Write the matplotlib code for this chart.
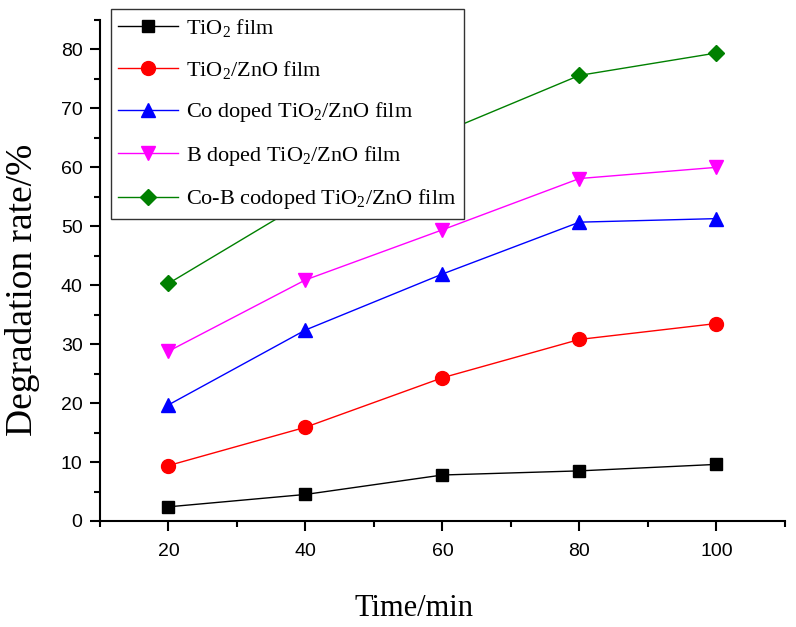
import matplotlib
matplotlib.use("Agg")
import matplotlib.pyplot as plt
from matplotlib.ticker import MultipleLocator

plt.rcParams["font.family"] = ["Liberation Serif", "DejaVu Serif"]
plt.rcParams["mathtext.fontset"] = "custom"
plt.rcParams["mathtext.rm"] = "Liberation Serif"
plt.rcParams["mathtext.it"] = "Liberation Serif:italic"

# data
time_min = [20, 40, 60, 80, 100]
tio2 = [2.4, 4.5, 7.8, 8.5, 9.6]
tio2_zno = [9.4, 15.9, 24.3, 30.8, 33.5]
co_doped = [19.7, 32.4, 41.9, 50.7, 51.3]
b_doped = [28.8, 40.9, 49.4, 58.1, 60.0]
cob_codoped = [40.3, 54.2, 65.9, 75.6, 79.4]

labels = [r"TiO$_2$ film", r"TiO$_2$/ZnO film", r"Co doped TiO$_2$/ZnO film",
          r"B doped TiO$_2$/ZnO film", r"Co-B codoped TiO$_2$/ZnO film"]
series = [tio2, tio2_zno, co_doped, b_doped, cob_codoped]
colors = ["#000000", "#FF0000", "#0000FF", "#FF00FF", "#008000"]
markers = ["s", "o", "^", "v", "D"]
msizes = [9, 10, 10, 10, 8.5]

fig = plt.figure(figsize=(7.96, 6.27), dpi=100)
ax = fig.add_axes([0.1256, 0.1691, 0.8604, 0.7990])

for ys, lab, c, m, ms in zip(series, labels, colors, markers, msizes):
    ax.plot(time_min, ys, color=c, lw=1.0, marker=m, ms=ms, mfc=c, mec=c, label=lab)

ax.set_xlim(10, 110)
ax.set_ylim(0, 85)
ax.xaxis.set_major_locator(MultipleLocator(20))
ax.xaxis.set_minor_locator(MultipleLocator(10))
ax.yaxis.set_major_locator(MultipleLocator(10))
ax.yaxis.set_minor_locator(MultipleLocator(5))
ax.set_xticks([20, 40, 60, 80, 100])

for s in ["top", "right"]:
    ax.spines[s].set_visible(False)
for s in ["left", "bottom"]:
    ax.spines[s].set_linewidth(1.5)

ax.tick_params(which="major", direction="out", length=7.5, width=1.5, pad=5,
               labelsize=14, labelfontfamily="Liberation Sans")
ax.tick_params(axis="x", which="major", pad=8)
ax.tick_params(which="minor", direction="out", length=4.5, width=1.5)

ax.set_xlabel("Time/min", fontsize=22)
ax.xaxis.set_label_coords(0.458, -0.145)
ax.set_ylabel("Degradation rate/%", fontsize=27)
ax.yaxis.set_label_coords(-0.087, 0.462)

leg = ax.legend(loc="upper left", bbox_to_anchor=(0.139, 0.985),
                bbox_transform=fig.transFigure, fontsize=16, frameon=True,
                fancybox=False, edgecolor="#333333", framealpha=1,
                borderpad=0.35, labelspacing=0.88, handlelength=2.7,
                handletextpad=0.35, borderaxespad=0)
leg.get_frame().set_linewidth(1.0)

fig.savefig("out.png", dpi=100, facecolor="white")
